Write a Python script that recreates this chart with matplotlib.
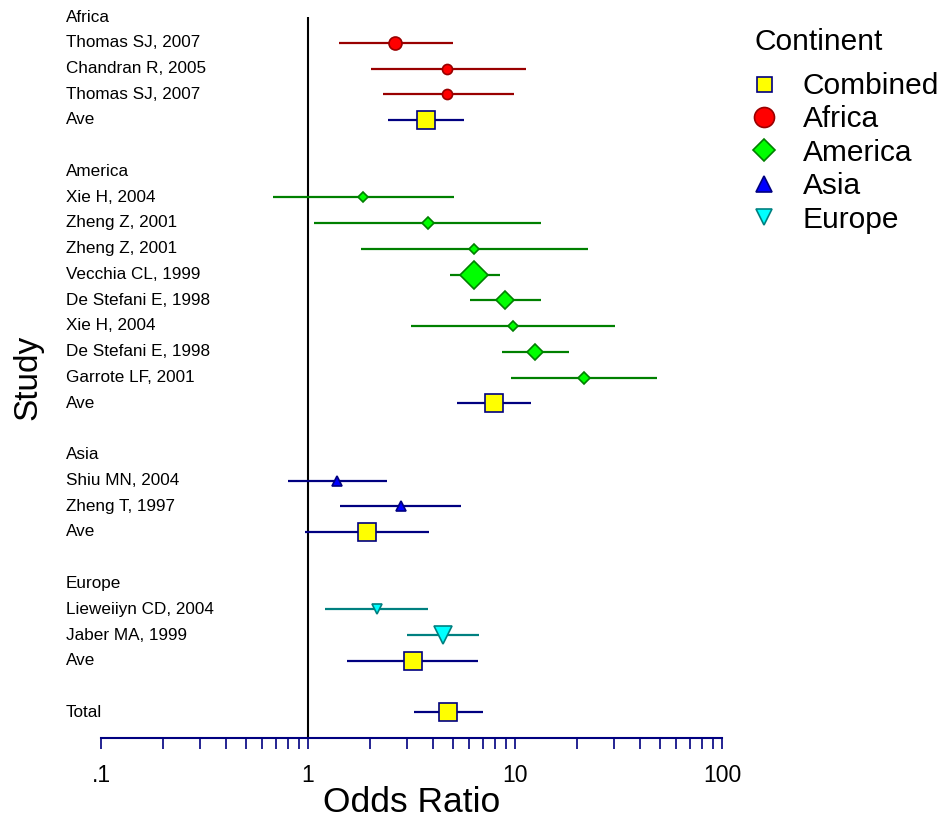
import numpy as np
import matplotlib.pyplot as plt
from matplotlib.lines import Line2D
from matplotlib.ticker import FixedLocator, FixedFormatter, NullFormatter
from matplotlib.transforms import blended_transform_factory

plt.rcParams['font.family'] = ['Liberation Sans', 'DejaVu Sans']

# ---- data ----
continents = ["Africa", "America", "Asia", "Europe"]

study = ["Thomas SJ, 2007", "Chandran R, 2005", "Thomas SJ, 2007",
         "Xie H, 2004", "Zheng Z, 2001", "Zheng Z, 2001", "Vecchia CL, 1999",
         "De Stefani E, 1998", "Xie H, 2004", "De Stefani E, 1998", "Garrote LF, 2001",
         "Shiu MN, 2004", "Zheng T, 1997",
         "Lieweiiyn CD, 2004", "Jaber MA, 1999"]
group = ["Africa"] * 3 + ["America"] * 8 + ["Asia"] * 2 + ["Europe"] * 2
odds = [2.63, 4.69, 4.69,
        1.85, 3.78, 6.32, 6.32, 8.95, 9.82, 12.5, 21.6,
        1.38, 2.81,
        2.15, 4.51]
ci_low = [1.41, 2.01, 2.30,
          0.674, 1.07, 1.80, 4.83, 6.09, 3.15, 8.62, 9.59,
          0.803, 1.43,
          1.21, 3.02]
ci_high = [5.02, 11.3, 9.9,
           5.06, 13.4, 22.4, 8.43, 13.3, 30.4, 18.3, 48.6,
           2.41, 5.50,
           3.81, 6.68]
weight = [25, 15, 15,
          7.4, 10.7, 7.4, 54, 24, 8.5, 20.6, 10.7,
          15, 12,
          15, 45]

ave_odds = [3.72, 7.89, 1.93, 3.20]
ave_low = [2.43, 5.25, 0.967, 1.55]
ave_high = [5.67, 11.9, 3.83, 6.62]

total_odds = 4.77
total_low = 3.26
total_high = 7.0

x_ticks = [0.1, 1, 10, 100]
x_tick_labels = [".1", "1", "10", "100"]

legend_names = ["Combined", "Africa", "America", "Asia", "Europe"]

# ---- styles ----
marker = {"Africa": "o", "America": "D", "Asia": "^", "Europe": "v", "Combined": "s"}
face = {"Africa": "#FF0000", "America": "#00FF00", "Asia": "#0000FF",
        "Europe": "#00FFFF", "Combined": "#FFFF00"}
edge = {"Africa": "#990000", "America": "#008000", "Asia": "#000080",
        "Europe": "#008080", "Combined": "#000080"}

PT = 72 / 100  # px -> pt at dpi 100


def msize(w):
    return 2.6 * np.sqrt(w) * PT


fig = plt.figure(figsize=(9.44, 8.18), dpi=100)
ax = fig.add_axes([101 / 944, 80 / 818, 621 / 944, 721 / 818])
ax.set_xscale("log")
ax.set_xlim(0.1, 100)
ax.set_ylim(28, 0)

lab_tr = blended_transform_factory(fig.transFigure, ax.transData)
label_x = 66 / 944
label_fs = 12.3


def draw_row(y, o, lo, hi, g, size_pt):
    ax.plot([lo, hi], [y, y], color=edge[g], lw=1.6, zorder=2, solid_capstyle="butt")
    ax.plot([o], [y], ls="none", marker=marker[g], ms=size_pt, mfc=face[g],
            mec=edge[g], mew=1.2, zorder=3)


row = 0
for ci, c in enumerate(continents):
    ax.text(label_x, row, c, transform=lab_tr, ha="left", va="center", fontsize=label_fs)
    row += 1
    for i in range(len(study)):
        if group[i] != c:
            continue
        ax.text(label_x, row, study[i], transform=lab_tr, ha="left", va="center",
                fontsize=label_fs)
        draw_row(row, odds[i], ci_low[i], ci_high[i], c, msize(weight[i]))
        row += 1
    ax.text(label_x, row, "Ave", transform=lab_tr, ha="left", va="center", fontsize=label_fs)
    draw_row(row, ave_odds[ci], ave_low[ci], ave_high[ci], "Combined", 18 * PT)
    row += 2

ax.text(label_x, row, "Total", transform=lab_tr, ha="left", va="center", fontsize=label_fs)
draw_row(row, total_odds, total_low, total_high, "Combined", 18 * PT)

ax.axvline(1, color="black", lw=1.5, zorder=1)

for s in ["top", "right", "left"]:
    ax.spines[s].set_visible(False)
ax.spines["bottom"].set_color("#000080")
ax.spines["bottom"].set_linewidth(1.5)
ax.set_yticks([])
ax.xaxis.set_major_locator(FixedLocator(x_ticks))
ax.xaxis.set_major_formatter(FixedFormatter(x_tick_labels))
ax.xaxis.set_minor_formatter(NullFormatter())
ax.tick_params(axis="x", which="both", direction="out", length=8, width=1.2,
               color="#000080", labelsize=16.5, pad=11)

ax.set_xlabel("Odds Ratio", fontsize=25.5, va="center")
ax.xaxis.set_label_coords(0.5, -(803 - 738) / 721)
ax.set_ylabel("Study", fontsize=24, va="center")
ax.yaxis.set_label_coords(-0.1176, 0.5)

# legend: title as plain text, entries as a legend
fig.text(754 / 944, 1 - 42 / 818, "Continent", ha="left", va="center", fontsize=21.5)
handles = [Line2D([], [], ls="none", marker=marker[k], mfc=face[k], mec=edge[k], mew=1.2,
                  ms=sz * PT)
           for k, sz in zip(legend_names, [15, 20, 15.5, 16, 16])]
leg = fig.legend(handles, legend_names, loc="upper left",
                 bbox_to_anchor=(754 / 944, 1 - 72 / 818), frameon=False,
                 fontsize=21.5, borderpad=0, borderaxespad=0, handlelength=0.67,
                 handletextpad=0.97, labelspacing=0.18)

fig.savefig("out.png", dpi=100)
